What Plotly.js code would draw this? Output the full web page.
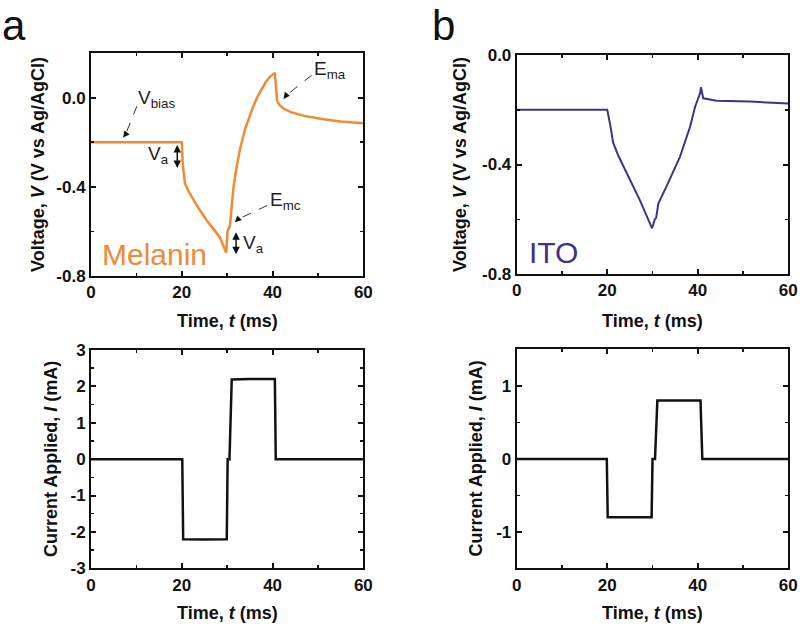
<!DOCTYPE html>
<html>
<head>
<meta charset="utf-8">
<script src="https://cdn.plot.ly/plotly-3.0.1.min.js"></script>
<style>html,body{margin:0;padding:0;background:#fff;}#chart{width:800px;height:626px;}</style>
</head>
<body>
<div id="chart"></div>
<script>
// ---- Data ----
// Panel a: Melanin voltage transient
const melaninTime = [0, 20.0, 20.2, 20.7, 21.5, 22.5, 23.5, 25.5, 27.0, 28.4, 29.75, 30.1, 30.6, 30.9, 31.4, 32.0, 32.8, 33.9, 34.8, 35.8, 36.7, 37.6, 38.5, 39.4, 40.5, 41.0, 41.5, 42.5, 44.0, 47.0, 51.2, 55.0, 60];
const melaninVoltage = [-0.2, -0.2, -0.30, -0.385, -0.42, -0.458, -0.49, -0.551, -0.59, -0.627, -0.695, -0.597, -0.575, -0.50, -0.40, -0.32, -0.233, -0.143, -0.09, -0.036, 0.005, 0.04, 0.07, 0.093, 0.111, -0.014, -0.033, -0.05, -0.065, -0.082, -0.097, -0.107, -0.115];
// Panel b: ITO voltage transient
const itoTime = [0, 20.0, 20.6, 21.3, 22.5, 24.3, 27.2, 29.9, 30.5, 30.8, 31.3, 33.1, 36.1, 38.3, 39.4, 40.5, 40.7, 41.2, 44.2, 51.5, 60];
const itoVoltage = [-0.2, -0.2, -0.25, -0.32, -0.37, -0.43, -0.53, -0.633, -0.60, -0.595, -0.542, -0.48, -0.37, -0.262, -0.189, -0.14, -0.118, -0.158, -0.167, -0.17, -0.177];
// Applied current, panel a
const melaninCurTime = [0, 20.1, 20.3, 25, 29.9, 30.1, 30.5, 31.0, 35, 40.5, 40.7, 60];
const melaninCurrent = [0, 0, -2.2, -2.21, -2.2, 0, 0, 2.19, 2.2, 2.2, 0, 0];
// Applied current, panel b
const itoCurTime = [0, 19.9, 20.1, 29.8, 30.0, 30.55, 31.07, 40.6, 41.0, 60];
const itoCurrent = [0, 0, -0.8, -0.8, 0, 0, 0.8, 0.8, 0, 0];

// Tick labels
const timeTicks = [0, 20, 40, 60];
const timeTickText = ['0', '20', '40', '60'];
const voltTicks = [-0.8, -0.4, 0.0];
const voltTickText = ['-0.8', '-0.4', '0.0'];
const curATicks = [-3, -2, -1, 0, 1, 2, 3];
const curATickText = ['-3', '-2', '-1', '0', '1', '2', '3'];
const curBTicks = [-1, 0, 1];
const curBTickText = ['-1', '0', '1'];

// ---- Styles ----
const ORANGE = '#F08A33';
const NAVY = '#3D3486';
const FONT = 'Liberation Sans, Arial, sans-serif';

function xAx(domain, anchor) {
  return {
    domain: domain, anchor: anchor, range: [0, 60],
    tickmode: 'array', tickvals: timeTicks, ticktext: timeTickText,
    ticks: 'inside', ticklen: 5, tickwidth: 2, tickcolor: '#111',
    minor: {dtick: 10, tick0: 0, ticks: 'inside', ticklen: 3, tickwidth: 1.5, tickcolor: '#111'},
    showline: true, linewidth: 2, linecolor: '#111', mirror: 'allticks',
    showgrid: false, zeroline: false,
    tickfont: {family: FONT, size: 17, color: '#111', weight: 'bold'}
  };
}
function yAx(domain, anchor, range, tv, tt, minorD) {
  return {
    domain: domain, anchor: anchor, range: range,
    tickmode: 'array', tickvals: tv, ticktext: tt,
    ticks: 'inside', ticklen: 5, tickwidth: 2, tickcolor: '#111',
    minor: {dtick: minorD, tick0: 0, ticks: 'inside', ticklen: 3, tickwidth: 1.5, tickcolor: '#111'},
    showline: true, linewidth: 2, linecolor: '#111', mirror: 'allticks',
    showgrid: false, zeroline: false,
    tickfont: {family: FONT, size: 17, color: '#111', weight: 'bold'}
  };
}

const traces = [
  {x: melaninTime, y: melaninVoltage, xaxis: 'x', yaxis: 'y', mode: 'lines', line: {color: ORANGE, width: 2.5}, showlegend: false},
  {x: itoTime, y: itoVoltage, xaxis: 'x2', yaxis: 'y2', mode: 'lines', line: {color: NAVY, width: 2}, showlegend: false},
  {x: melaninCurTime, y: melaninCurrent, xaxis: 'x3', yaxis: 'y3', mode: 'lines', line: {color: '#111', width: 2.5}, showlegend: false},
  {x: itoCurTime, y: itoCurrent, xaxis: 'x4', yaxis: 'y4', mode: 'lines', line: {color: '#111', width: 2.5}, showlegend: false}
];

const dA = [0.1138, 0.4542], dB = [0.6459, 0.9854];
const vTitle = '<b>Voltage, <i>V</i> (V vs Ag/AgCl)</b>';
const iTitle = '<b>Current Applied, <i>I</i> (mA)</b>';
const tTitle = '<b>Time, <i>t</i> (ms)</b>';
const titleFont = {family: FONT, size: 18, color: '#111'};

const annFont = {family: FONT, size: 19, color: '#222'};
function dashArrowShape(x0, y0, x1, y1) {
  return {type: 'line', xref: 'x', yref: 'y', x0: x0, y0: y0, x1: x1, y1: y1,
          line: {color: '#333', width: 1, dash: 'dash'}};
}
function arrowHead(x, y, ax, ay) {
  return {x: x, y: y, ax: ax, ay: ay, xref: 'x', yref: 'y', axref: 'x', ayref: 'y',
          text: '', showarrow: true, arrowhead: 2, arrowsize: 1.3, arrowwidth: 1, arrowcolor: '#111'};
}
function dblArrow(x, y0, y1) {
  return {x: x, y: y1, ax: x, ay: y0, xref: 'x', yref: 'y', axref: 'x', ayref: 'y',
          text: '', showarrow: true, arrowhead: 2, startarrowhead: 2, arrowside: 'end+start',
          arrowsize: 1, startarrowsize: 1, arrowwidth: 1.5, arrowcolor: '#111'};
}
function yTitle(text, xPix, yTopPix, yBotPix) {
  return {text: text, xref: 'paper', yref: 'paper', x: xPix / 800, y: 1 - (yTopPix + yBotPix) / 2 / 626,
          xanchor: 'center', yanchor: 'middle', textangle: -90, showarrow: false, font: titleFont};
}
function xTitle(text, dom, yPix) {
  return {text: text, xref: 'paper', yref: 'paper', x: (dom[0] + dom[1]) / 2, y: 1 - yPix / 626,
          xanchor: 'center', yanchor: 'middle', showarrow: false, font: titleFont};
}

const layout = {
  width: 800, height: 626,
  margin: {l: 0, r: 0, t: 0, b: 0},
  paper_bgcolor: '#fff', plot_bgcolor: '#fff',
  xaxis: xAx(dA, 'y'),
  yaxis: yAx([0.5591, 0.9153], 'x', [-0.8, 0.2], voltTicks, voltTickText, 0.2),
  xaxis2: xAx(dB, 'y2'),
  yaxis2: yAx([0.5623, 0.9121], 'x2', [-0.8, 0.0], voltTicks, voltTickText, 0.2),
  xaxis3: xAx(dA, 'y3'),
  yaxis3: yAx([0.0922, 0.4409], 'x3', [-3, 3], curATicks, curATickText, 0.5),
  xaxis4: xAx(dB, 'y4'),
  yaxis4: yAx([0.0922, 0.4417], 'x4', [-1.5, 1.5], curBTicks, curBTickText, 0.5),
  shapes: [
    dashArrowShape(10.1, -0.038, 7.6, -0.165),
    dashArrowShape(48.6, 0.10, 43.0, 0.01),
    dashArrowShape(38.8, -0.484, 32.4, -0.545)
  ],
  annotations: [
    yTitle(vTitle, 38.5, 53, 276),
    yTitle(vTitle, 460.5, 55, 274),
    yTitle(iTitle, 51, 350, 568),
    yTitle(iTitle, 475, 349, 568),
    xTitle(tTitle, dA, 321),
    xTitle(tTitle, dB, 321),
    xTitle(tTitle, dA, 613),
    xTitle(tTitle, dB, 613),
    {text: 'a', xref: 'paper', yref: 'paper', x: 0.0, y: 1 - 25 / 626, xanchor: 'left', yanchor: 'middle', showarrow: false,
     font: {family: FONT, size: 42, color: '#111'}},
    {text: 'b', xref: 'paper', yref: 'paper', x: 430 / 800, y: 1 - 25 / 626, xanchor: 'left', yanchor: 'middle', showarrow: false,
     font: {family: FONT, size: 42, color: '#111'}},
    {text: 'Melanin', xref: 'x', yref: 'y', x: 1.9, y: -0.705, xanchor: 'left', yanchor: 'middle', showarrow: false,
     font: {family: FONT, size: 30, color: ORANGE}},
    {text: 'ITO', xref: 'x2', yref: 'y2', x: 2.2, y: -0.72, xanchor: 'left', yanchor: 'middle', showarrow: false,
     font: {family: FONT, size: 30, color: NAVY}},
    {text: 'V<sub>bias</sub>', xref: 'x', yref: 'y', x: 10.0, y: -0.005, xanchor: 'left', yanchor: 'middle', showarrow: false, font: annFont},
    arrowHead(7.05, -0.179, 7.6, -0.165),
    dblArrow(19.0, -0.206, -0.316),
    {text: 'V<sub>a</sub>', xref: 'x', yref: 'y', x: 14.8, y: -0.256, xanchor: 'center', yanchor: 'middle', showarrow: false, font: annFont},
    {text: 'E<sub>ma</sub>', xref: 'x', yref: 'y', x: 48.7, y: 0.125, xanchor: 'left', yanchor: 'middle', showarrow: false, font: annFont},
    arrowHead(42.4, -0.006, 43.0, 0.01),
    {text: 'E<sub>mc</sub>', xref: 'x', yref: 'y', x: 38.9, y: -0.462, xanchor: 'left', yanchor: 'middle', showarrow: false, font: annFont},
    arrowHead(31.7, -0.559, 32.4, -0.545),
    dblArrow(31.95, -0.597, -0.703),
    {text: 'V<sub>a</sub>', xref: 'x', yref: 'y', x: 35.9, y: -0.656, xanchor: 'center', yanchor: 'middle', showarrow: false, font: annFont}
  ]
};

Plotly.newPlot('chart', traces, layout, {displayModeBar: false, staticPlot: true});
</script>
</body>
</html>
